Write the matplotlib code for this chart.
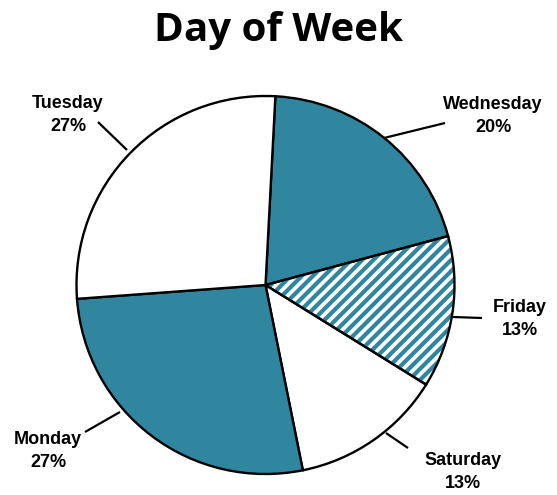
import matplotlib
matplotlib.use("Agg")
import matplotlib.pyplot as plt
from matplotlib.patches import Wedge

# data, in the order the slices run clockwise from the top
days = ["Wednesday", "Friday", "Saturday", "Monday", "Tuesday"]
shares = [20, 13, 13, 27, 27]
fills = ["teal", "hatch", "white", "teal", "white"]

TEAL = "#30869e"
W, H = 557, 495

# layout in pixel space (y measured from the top of the image)
CX, CY, R = 265.5, 285, 189
label_xy = {"Wednesday": (493, 116), "Friday": (520, 319), "Saturday": (463, 472),
            "Monday": (48, 451), "Tuesday": (68, 115)}
leader = {"Wednesday": ((384, 138), (445, 123)), "Friday": ((453, 317), (482, 318)),
          "Saturday": ((386, 433), (408, 448)), "Monday": ((120, 412), (85, 432)),
          "Tuesday": ((127, 150), (98, 122))}

plt.rcParams["hatch.linewidth"] = 3.0

fig = plt.figure(figsize=(W / 100, H / 100), dpi=100)
ax = fig.add_axes([0, 0, 1, 1])
ax.set_xlim(0, W); ax.set_ylim(0, H)
ax.axis("off")

face = {"teal": TEAL, "white": "white", "hatch": "white"}
wedges, _ = ax.pie(shares, startangle=87, counterclock=False, center=(CX, H - CY), radius=R,
                   colors=[face[f] for f in fills],
                   wedgeprops=dict(edgecolor="black", linewidth=1.7))
ax.set_xlim(0, W); ax.set_ylim(0, H)

for w, f in zip(wedges, fills):
    if f == "hatch":
        hw = Wedge(w.center, w.r, w.theta1, w.theta2, facecolor="none", edgecolor=TEAL,
                   linewidth=0, hatch="///", zorder=w.get_zorder() + 0.1)
        ax.add_patch(hw)
        w.set_zorder(w.get_zorder() + 0.2)
        w.set_facecolor("none")

for d, s in zip(days, shares):
    (x0, y0), (x1, y1) = leader[d]
    ax.plot([x0, x1], [H - y0, H - y1], color="black", lw=1.6, solid_capstyle="butt")
    lx, ly = label_xy[d]
    ax.text(lx, H - ly, f"{d}\n{s}%", ha="center", va="center", fontsize=13,
            fontweight="bold", family="Liberation Sans", linespacing=1.4)

ax.text(279, H - 31, "Day of Week", ha="center", va="center", fontsize=29,
        fontweight="bold", family="Open Sans")

fig.savefig("out.png", dpi=100)
